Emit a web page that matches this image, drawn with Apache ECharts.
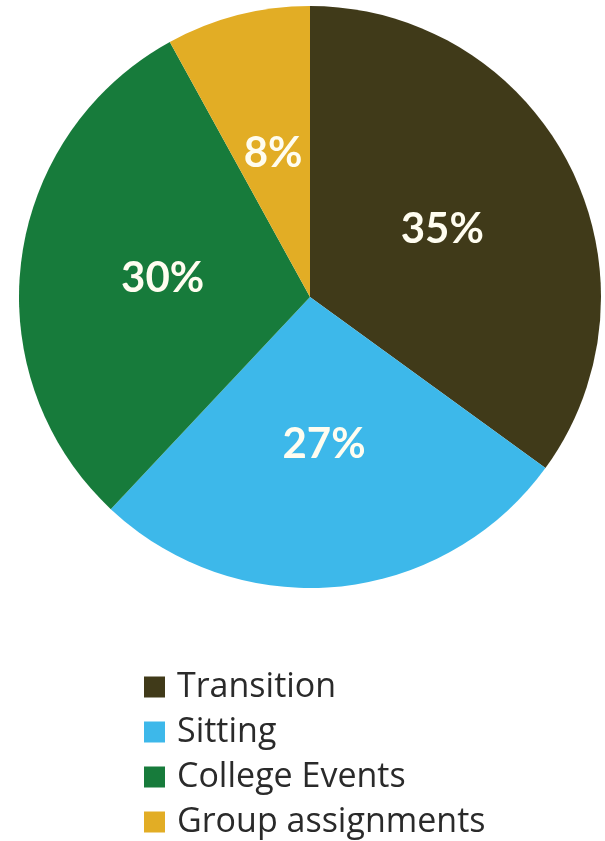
<!DOCTYPE html>
<html>
<head>
<meta charset="utf-8">
<script src="https://cdn.jsdelivr.net/npm/echarts@6/dist/echarts.min.js"></script>
<style>
  html, body { margin: 0; padding: 0; background: #ffffff; }
  #chart { width: 605px; height: 841px; }
</style>
</head>
<body>
<div id="chart"></div>
<script>
// Share of time by activity
const categories = ['Transition', 'Sitting', 'College Events', 'Group assignments'];
const shares = [35, 27, 30, 8];
const colors = ['#403a19', '#3db8ea', '#177b3b', '#e2ad25'];

const chart = echarts.init(document.getElementById('chart'), null, { renderer: 'canvas' });

chart.setOption({
  backgroundColor: '#ffffff',
  animation: false,
  color: colors,
  legend: {
    orient: 'vertical',
    left: 139,
    top: 665,
    height: 176,
    icon: 'rect',
    itemWidth: 21,
    itemHeight: 21,
    itemGap: 11,
    selectedMode: false,
    data: categories,
    textStyle: {
      fontFamily: 'Open Sans',
      fontSize: 34,
      lineHeight: 34,
      color: '#2a2a2a',
      padding: [0, 0, 0, 7]
    }
  },
  series: [{
    type: 'pie',
    center: [310, 297],
    radius: [0, 291],
    startAngle: 90,
    clockwise: true,
    avoidLabelOverlap: false,
    itemStyle: { borderWidth: 0 },
    label: {
      show: true,
      position: 'inside',
      formatter: '{c}%',
      fontFamily: 'Lato',
      fontWeight: 'bold',
      fontSize: 42,
      color: '#fffdf0'
    },
    labelLine: { show: false },
    emphasis: { disabled: true },
    data: categories.map((name, i) => ({ name: name, value: shares[i] }))
  }]
});
</script>
</body>
</html>
